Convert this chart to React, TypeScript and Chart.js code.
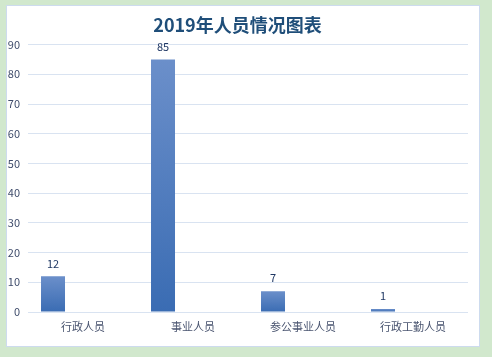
import React, { useEffect, useRef } from "react";
import { Chart, registerables } from "chart.js";

Chart.register(...registerables);

const titleText = "2019年人员情况图表";
const categories = ["行政人员", "事业人员", "参公事业人员", "行政工勤人员"];
const values = [12, 85, 7, 1];
const emptySeries: (number | null)[] = [null, null, null, null];
const yTicksMax = 90;
const yTicksStep = 10;

const CJK = "'Noto Sans CJK SC', 'Noto Sans', sans-serif";

const valueLabels = {
  id: "valueLabels",
  afterDatasetsDraw(chart: any) {
    const meta = chart.getDatasetMeta(0);
    const ctx = chart.ctx;
    ctx.save();
    ctx.font = `11px ${CJK}`;
    ctx.fillStyle = "#203864";
    ctx.textAlign = "center";
    ctx.textBaseline = "middle";
    meta.data.forEach((el: any, i: number) => {
      ctx.fillText(String(values[i]), el.x, el.y - 13);
    });
    ctx.restore();
  },
};

export default function App() {
  const ref = useRef<HTMLCanvasElement | null>(null);
  useEffect(() => {
    if (!ref.current) return;
    const chart = new Chart(ref.current, {
      type: "bar",
      data: {
        labels: categories,
        datasets: [
          {
            label: "人数",
            data: values,
            backgroundColor: (c: any) => {
              const ch = c.chart;
              if (!ch.chartArea || c.type !== "data") return "#4f7fc0";
              const ys = ch.scales.y;
              const top = ys.getPixelForValue(c.raw);
              const bottom = ys.getPixelForValue(0);
              if (!isFinite(top) || !isFinite(bottom) || top === bottom) return "#4f7fc0";
              const g = ch.ctx.createLinearGradient(0, top, 0, bottom);
              g.addColorStop(0, "#6b8fca");
              g.addColorStop(1, "#3a6cb3");
              return g;
            },
            borderWidth: 0,
            categoryPercentage: 0.818,
            barPercentage: 0.8,
          },
          { label: "b", data: emptySeries, categoryPercentage: 0.818, barPercentage: 0.8 },
          { label: "c", data: emptySeries, categoryPercentage: 0.818, barPercentage: 0.8 },
        ],
      },
      options: {
        animation: false,
        responsive: false,
        maintainAspectRatio: false,
        layout: { padding: { left: 0, right: 11, top: 0, bottom: 0 } },
        plugins: {
          legend: { display: false },
          tooltip: { enabled: false },
          title: {
            display: true,
            text: titleText,
            color: "#1f4e79",
            font: { family: CJK, size: 18, weight: "bold" },
            padding: { top: 8, bottom: 9 },
          },
        },
        scales: {
          x: {
            grid: { display: false, drawTicks: false },
            border: { display: false },
            ticks: {
              color: "#4a5570",
              font: { family: CJK, size: 11 },
              padding: 8,
              maxRotation: 0,
            },
            afterFit: (s: any) => {
              s.height = 34;
            },
          },
          y: {
            min: 0,
            max: yTicksMax,
            grid: { color: "#d9e3f1", drawTicks: false, lineWidth: 1 },
            border: { display: false },
            ticks: {
              stepSize: yTicksStep,
              color: "#3f4c6b",
              font: { family: CJK, size: 11 },
              padding: 8,
            },
            afterFit: (s: any) => {
              s.width = 21;
            },
          },
        },
      },
      plugins: [valueLabels],
    } as any);
    return () => chart.destroy();
  }, []);

  return (
    <div
      style={{
        position: "fixed",
        left: 0,
        top: 0,
        width: 492,
        height: 357,
        background: "#d1e8cd",
      }}
    >
      <div
        style={{
          position: "absolute",
          left: 6,
          top: 5,
          width: 472,
          height: 340,
          background: "#ffffff",
          border: "1px solid #cddbee",
        }}
      >
        <canvas ref={ref} width={472} height={340} style={{ display: "block", width: 472, height: 340 }} />
      </div>
    </div>
  );
}
